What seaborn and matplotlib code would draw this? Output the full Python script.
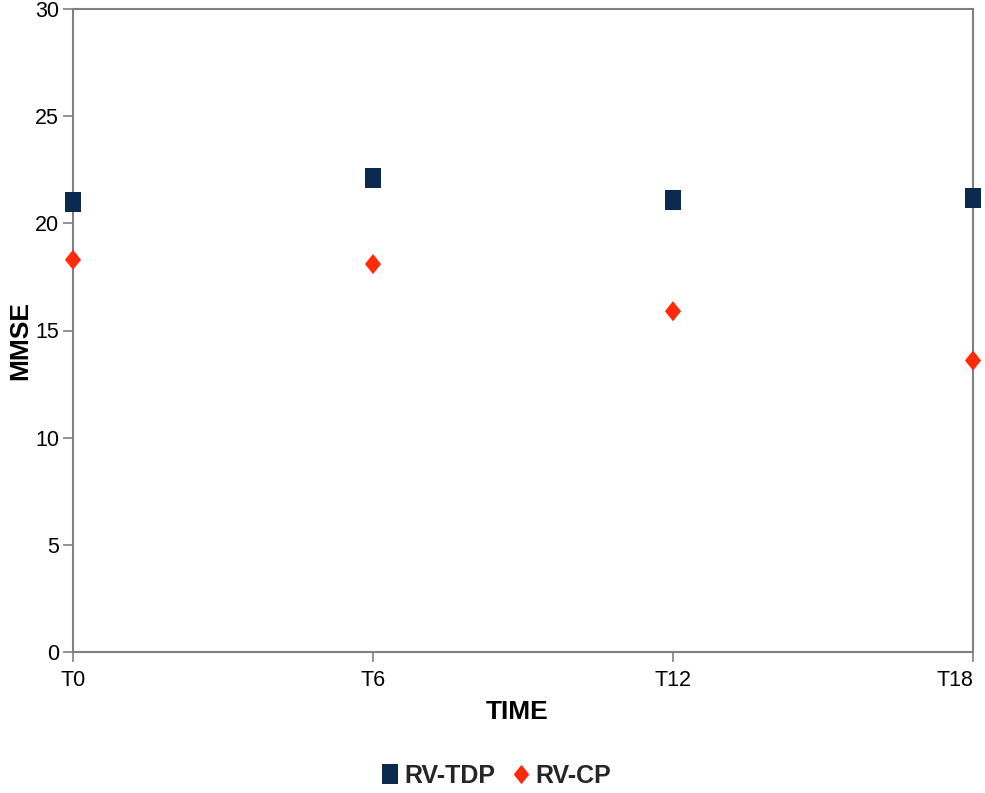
import matplotlib
matplotlib.use("Agg")
import matplotlib.pyplot as plt
from matplotlib.path import Path
from matplotlib.lines import Line2D
import seaborn as sns
import pandas as pd

times = ["T0", "T6", "T12", "T18"]
rv_tdp = [21.0, 22.1, 21.1, 21.2]
rv_cp = [18.3, 18.1, 15.9, 13.6]
y_ticks = [0, 5, 10, 15, 20, 25, 30]

sns.set_theme(style="white")
plt.rcParams['font.family'] = ['Liberation Sans', 'DejaVu Sans']

navy = "#0b2a50"
red = "#ff2a0a"
spine_col = "#808080"

rect = Path([(-0.4, -0.5), (0.4, -0.5), (0.4, 0.5), (-0.4, 0.5), (-0.4, -0.5)],
            [Path.MOVETO, Path.LINETO, Path.LINETO, Path.LINETO, Path.CLOSEPOLY])
diam = Path([(0, -0.5), (0.4, 0), (0, 0.5), (-0.4, 0), (0, -0.5)],
            [Path.MOVETO, Path.LINETO, Path.LINETO, Path.LINETO, Path.CLOSEPOLY])

df_tdp = pd.DataFrame({"TIME": times, "MMSE": rv_tdp})
df_cp = pd.DataFrame({"TIME": times, "MMSE": rv_cp})

fig = plt.figure(figsize=(9.85, 7.93), dpi=100)
ax = fig.add_axes([73/985, 1-652/793, 900/985, 643/793])

sns.scatterplot(data=df_tdp, x="TIME", y="MMSE", marker=rect, s=210, color=navy,
                edgecolor="none", ax=ax, zorder=3, clip_on=False)
sns.scatterplot(data=df_cp, x="TIME", y="MMSE", marker=diam, s=210, color=red,
                edgecolor="none", ax=ax, zorder=3, clip_on=False)

ax.set_xlim(0, 3)
ax.set_ylim(0, 30)
ax.set_yticks(y_ticks)
ax.set_yticklabels([str(v) for v in y_ticks])
for s in ax.spines.values():
    s.set_color(spine_col)
    s.set_linewidth(1.5)
ax.tick_params(axis="both", which="major", length=7, width=1.2, color=spine_col,
               labelsize=15.5, labelcolor="black", direction="out", pad=3,
               left=True, bottom=True)
ax.tick_params(axis="x", pad=6)
xt = ax.get_xticklabels()
xt[-1].set_horizontalalignment("right")

ax.set_xlabel("TIME", fontsize=19, fontweight="bold", color="black")
ax.set_ylabel("MMSE", fontsize=19, fontweight="bold", color="black")
ax.xaxis.set_label_coords(0.493, (652 - 700) / 643)
ax.yaxis.set_label_coords((32 - 73) / 900, (652 - 340) / 643)

handles = [
    Line2D([], [], linestyle="none", marker=rect, markersize=14, color=navy, markeredgewidth=0),
    Line2D([], [], linestyle="none", marker=diam, markersize=14, color=red, markeredgewidth=0),
]
leg = fig.legend(handles, ["RV-TDP", "RV-CP"], loc="center",
                 bbox_to_anchor=(495/985, 1 - 776/793),
                 ncol=2, frameon=False, handletextpad=0.1, columnspacing=0.6,
                 handlelength=0.9, prop={"weight": "bold", "size": 18})

fig.savefig("out.png", dpi=100)
